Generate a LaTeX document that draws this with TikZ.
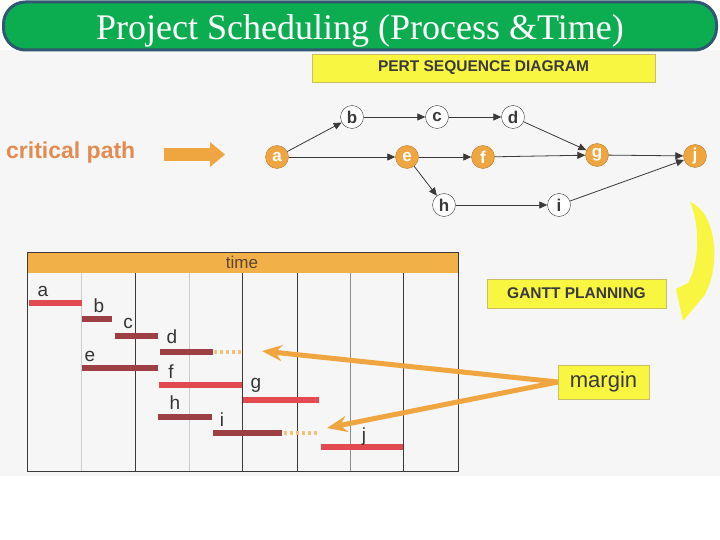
\documentclass[tikz,border=0pt]{standalone}
\usepackage{fontspec}
\setmainfont{Liberation Serif}
\setsansfont{Liberation Sans}
\usetikzlibrary{
  	positioning,
  	arrows.meta
  }
\definecolor{titlegreen}{RGB}{12,172,80}
\definecolor{titleedge}{RGB}{48,88,112}
\definecolor{bggrey}{RGB}{246,246,246}
\definecolor{cpath}{RGB}{240,166,64}
\definecolor{cpathtext}{RGB}{226,140,82}
\definecolor{hiyellow}{RGB}{248,246,64}
\definecolor{boxedge}{RGB}{200,190,100}
\definecolor{barred}{RGB}{226,74,80}
\definecolor{bardark}{RGB}{156,64,70}
\definecolor{txtgrey}{RGB}{58,58,58}
\definecolor{timeorange}{RGB}{242,176,72}
\tikzstyle{ev}=[circle,draw=txtgrey,fill=white,inner sep=0pt,minimum size=23pt,text=txtgrey,font=\sffamily\bfseries\fontsize{17}{17}\selectfont]
\tikzstyle{crit}=[ev,fill=cpath,draw=cpath!75!black,text=white]
\tikzstyle{pe}=[draw=txtgrey,line width=0.8pt,-{Triangle[length=8pt,width=7pt]}]
\tikzstyle{lab}=[fill=hiyellow,draw=boxedge,text=txtgrey,inner sep=0pt,font=\sffamily\bfseries\fontsize{15.5}{15.5}\selectfont]
\tikzstyle{act}=[text=txtgrey!90!black,inner sep=0pt,font=\sffamily\fontsize{19}{19}\selectfont]
\tikzstyle{bar}=[line width=6pt]
\tikzstyle{slack}=[line width=4pt,draw=cpath!70,dash pattern=on 3pt off 3pt]
\tikzstyle{marr}=[draw=cpath,line width=5pt,-{Stealth[length=20pt,width=16pt]}]

\begin{document}
\begin{tikzpicture}[x=1pt,y=-1pt]
  	\useasboundingbox (0,0) rectangle (720,540);
	\fill[bggrey] (0,50) rectangle (720,476);
	\node[rounded corners=22pt,fill=titlegreen,draw=titleedge,line width=3pt,minimum width=713pt,minimum height=48pt] (ttl) at (360,26) {};
	\node[anchor=base,text=white,font=\fontsize{36}{36}\selectfont] (ttltext) at (360,40) {Project Scheduling (Process \&Time)};
	% pert
	\node[lab,minimum width=343pt,minimum height=28pt] (pert) at (483.5,68) {PERT SEQUENCE DIAGRAM};
	\node[crit] (a) at (277,157) {a};
	\node[ev] (b) at (352,117) {b};
	\node[ev] (c) at (437,117) {c};
	\node[ev] (d) at (513,117) {d};
	\node[crit] (e) at (407,157) {e};
	\node[crit] (f) at (483,157) {f};
	\node[crit] (g) at (597,155) {g};
	\node[crit] (j) at (695,156) {j};
	\node[ev] (h) at (444,205) {h};
	\node[ev] (i) at (559,205) {i};
	\draw[pe] (a) to (b);
	\draw[pe] (b) to (c);
	\draw[pe] (c) to (d);
	\draw[pe] (d) to (g);
	\draw[pe] (a) to (e);
	\draw[pe] (e) to (f);
	\draw[pe] (f) to (g);
	\draw[pe] (g) to (j);
	\draw[pe] (e) to (h);
	\draw[pe] (h) to (i);
	\draw[pe] (i) to (j);
	\node[anchor=base west,inner sep=0pt,text=cpathtext,font=\sffamily\bfseries\fontsize{23}{23}\selectfont] (cp) at (6,159) {critical path};
	\coordinate (cp1) at (164,154.5);
	\coordinate (cp2) at (225,154.5);
	\draw[draw=cpath,line width=13pt,-{Triangle[length=15pt,width=24pt]}] (cp1) -- (cp2);
	% turn
	\fill[hiyellow] (690,202) .. controls (716,212) and (722,265) .. (704,296) -- (683,321) -- (676,289) -- (688,283) .. controls (700,262) and (700,225) .. (690,202) -- cycle;
	\node[lab,minimum width=179pt,minimum height=29pt] (gantt) at (576.5,293.5) {GANTT PLANNING};
	% gantt
	\fill[timeorange] (27,252) rectangle (458,273);
	\node[text={rgb,255:red,90;green,70;blue,50},font=\sffamily\fontsize{17}{17}\selectfont] (time) at (242,262) {time};
	\foreach \x in {81,189}
		\draw[black!20] (\x,273) -- (\x,471);
	\draw[black!45] (350,273) -- (350,471);
	\foreach \x in {135,242,297,403}
		\draw[txtgrey,line width=0.8pt] (\x,273) -- (\x,471);
	\draw[txtgrey,line width=0.8pt] (27,252) rectangle (458,471);
	\draw[bar,barred] (29,303) -- (82,303);
	\draw[bar,bardark] (82,319) -- (112,319);
	\draw[bar,bardark] (115,336) -- (158,336);
	\draw[bar,bardark] (160,352) -- (213,352);
	\draw[slack] (214,352) -- (243,352);
	\draw[bar,bardark] (82,368) -- (158,368);
	\draw[bar,barred] (159,385) -- (242,385);
	\draw[bar,barred] (243,400) -- (319,400);
	\draw[bar,bardark] (158,417) -- (212,417);
	\draw[bar,bardark] (213,433) -- (282,433);
	\draw[slack] (284,433) -- (317,433);
	\draw[bar,barred] (321,447) -- (403,447);
	\node[act] (ga) at (43,291) {a};
	\node[act] (gb) at (99,306) {b};
	\node[act] (gc) at (128,323) {c};
	\node[act] (gd) at (172,337) {d};
	\node[act] (ge) at (90,356) {e};
	\node[act] (gf) at (171,372) {f};
	\node[act] (gg) at (256,385) {g};
	\node[act] (gh) at (175,403) {h};
	\node[act] (gi) at (222,420) {i};
	\node[act] (gj) at (364,437) {j};
	% margin
	\node[lab,minimum width=91pt,minimum height=34pt,font=\sffamily\fontsize{22}{22}\selectfont] (margin) at (603.5,382) {margin};
	\coordinate (m1) at (262,351);
	\coordinate (m2) at (327,428);
	\draw[marr] (margin.west) -- (m1);
	\draw[marr] (margin.west) -- (m2);
\end{tikzpicture}
\end{document}
